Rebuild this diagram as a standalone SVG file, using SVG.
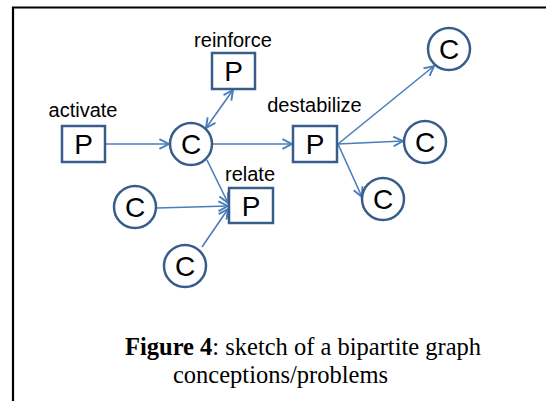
<svg xmlns="http://www.w3.org/2000/svg" width="546" height="401" viewBox="0 0 546 401">
<style>
.box{fill:#fff;stroke:#385D8A;stroke-width:2.5}
.circ{fill:#fff;stroke:#385D8A;stroke-width:2.5}
.sym{font-family:"Liberation Sans",Arial,sans-serif;font-size:28px;fill:#000;text-anchor:middle}
.lbl{font-family:"Liberation Sans",Arial,sans-serif;font-size:20px;fill:#000;text-anchor:middle}
.edge{stroke:#4A7EBB;stroke-width:1.6;fill:none;marker-end:url(#ah)}
.cap{font-family:"Liberation Serif","Times New Roman",serif;font-size:24.5px;fill:#000}
</style>
<defs>
<marker id="ah" markerUnits="userSpaceOnUse" markerWidth="12" markerHeight="12" viewBox="0 0 10 10" refX="9" refY="5" orient="auto-start-reverse">
<path d="M1,1 L9,5 L1,9" fill="none" stroke="#4A7EBB" stroke-width="1.6"/>
</marker>
</defs>
<rect width="546" height="401" fill="#fff"/>
<g id="frame">
<path d="M13,401 V7.5 H546" fill="none" stroke="#000" stroke-width="2.2"/>
</g>
<g id="connectors">
<line class="edge" x1="105" y1="144" x2="169" y2="144"/>
<line class="edge" x1="233" y1="90" x2="206" y2="128" style="marker-start:url(#ah)"/>
<line class="edge" x1="213" y1="144" x2="292" y2="144"/>
<line class="edge" x1="338" y1="144" x2="434" y2="66"/>
<line class="edge" x1="338" y1="144" x2="403" y2="141"/>
<line class="edge" x1="338" y1="144" x2="362" y2="197"/>
<line class="edge" x1="207" y1="160" x2="228" y2="203"/>
<line class="edge" x1="157" y1="208" x2="228" y2="206"/>
<line class="edge" x1="202" y1="247" x2="228" y2="209"/>
</g>
<g id="activate">
<rect class="box" x="62" y="126" width="43" height="36"/>
<text class="sym" x="83.5" y="154">P</text>
<text class="lbl" x="83" y="117">activate</text>
</g>
<g id="reinforce">
<rect class="box" x="212" y="53" width="43" height="36"/>
<text class="sym" x="233.5" y="81">P</text>
<text class="lbl" x="233" y="47">reinforce</text>
</g>
<g id="destabilize">
<rect class="box" x="293" y="126" width="44" height="36"/>
<text class="sym" x="315" y="154">P</text>
<text class="lbl" x="314.5" y="112">destabilize</text>
</g>
<g id="relate">
<rect class="box" x="229" y="188" width="44" height="35"/>
<text class="sym" x="251" y="215.5">P</text>
<text class="lbl" x="250" y="181">relate</text>
</g>
<g id="c-center">
<circle class="circ" cx="191" cy="144" r="21"/>
<text class="sym" x="191" y="154">C</text>
</g>
<g id="c-top-right">
<circle class="circ" cx="449" cy="49" r="21"/>
<text class="sym" x="449" y="59">C</text>
</g>
<g id="c-mid-right">
<circle class="circ" cx="425" cy="142" r="21"/>
<text class="sym" x="425" y="152">C</text>
</g>
<g id="c-low-right">
<circle class="circ" cx="383" cy="199" r="21"/>
<text class="sym" x="383" y="209">C</text>
</g>
<g id="c-left">
<circle class="circ" cx="135" cy="207" r="21"/>
<text class="sym" x="135" y="217">C</text>
</g>
<g id="c-bottom">
<circle class="circ" cx="185" cy="266" r="21"/>
<text class="sym" x="185" y="276">C</text>
</g>
<g id="caption">
<text class="cap" x="125" y="355"><tspan font-weight="bold">Figure 4</tspan>: sketch of a bipartite graph</text>
<text class="cap" x="173" y="383">conceptions/problems</text>
</g>
</svg>
